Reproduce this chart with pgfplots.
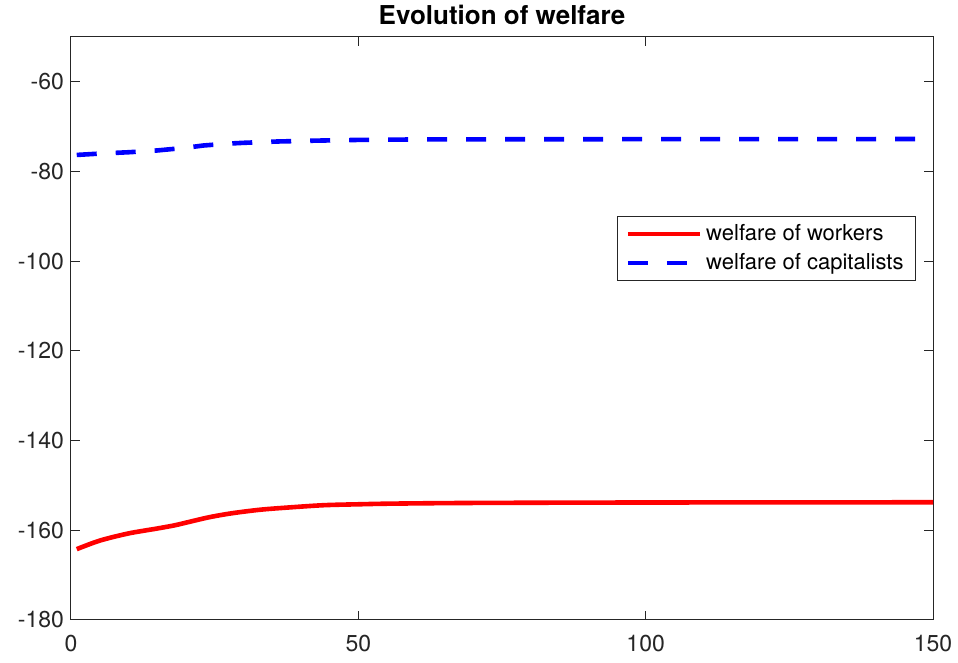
\documentclass[border=0pt]{standalone}
\usepackage{pgfplots}
\pgfplotsset{compat=1.18}
\usepackage{fontspec}
\setmainfont{TeX Gyre Heros}
\definecolor{axgray}{RGB}{38,38,38}
\begin{document}
\begin{tikzpicture}
\begin{axis}[
  scale only axis,
  width=431pt, height=291.5pt,
  xmin=0, xmax=150, ymin=-180, ymax=-50,
  xtick={0,50,100,150}, ytick={-180,-160,-140,-120,-100,-80,-60},
  tick align=inside,
  major tick length=4.5pt,
  axis line style={axgray, line width=0.5pt},
  every tick/.style={axgray, line width=0.5pt},
  tick label style={font=\fontsize{11.5}{13}\selectfont, text=axgray},
  xticklabel style={yshift=-4pt},
  /pgf/number format/assume math mode=true,
  /pgf/number format/1000 sep={},
  title={Evolution of welfare},
  title style={at={(0.5,1)}, anchor=base, yshift=0pt, font=\bfseries\fontsize{13}{15}\selectfont},
  legend style={at={(0.9803,0.693)}, anchor=north east, draw=axgray, line width=0.5pt,
    font=\fontsize{11}{13}\selectfont, inner xsep=4pt, inner ysep=2pt, row sep=1pt},
  legend cell align=left,
  legend image code/.code={\draw[#1] (0pt,0pt) -- (36pt,0pt);},
]
\addplot[red, line width=2.3pt, smooth] coordinates {
(1,-164.2) (5,-162.3) (10,-160.7) (15,-159.6) (18,-158.9) (20,-158.3) (24,-157.1)
(28,-156.2) (33,-155.4) (38,-154.9) (44,-154.4) (50,-154.2) (56,-154.05) (70,-153.9)
(100,-153.8) (150,-153.75)};
\addlegendentry{welfare of workers}
\addplot[blue, line width=2.3pt, dash pattern=on 10pt off 9.5pt] coordinates {
(1,-76.3) (5,-76.0) (10,-75.7) (15,-75.3) (20,-74.7) (23,-74.2) (27,-73.8) (30,-73.6)
(36,-73.3) (43,-73.1) (50,-72.95) (60,-72.85) (80,-72.8) (150,-72.75)};
\addlegendentry{welfare of capitalists}
\end{axis}
\path (current axis.south west) ++(-35.5pt,-21.5pt) coordinate (bbsw);
\path (current axis.north east) ++(12.5pt,18.5pt) coordinate (bbne);
\pgfresetboundingbox
\useasboundingbox (bbsw) rectangle (bbne);
\end{tikzpicture}
\end{document}
